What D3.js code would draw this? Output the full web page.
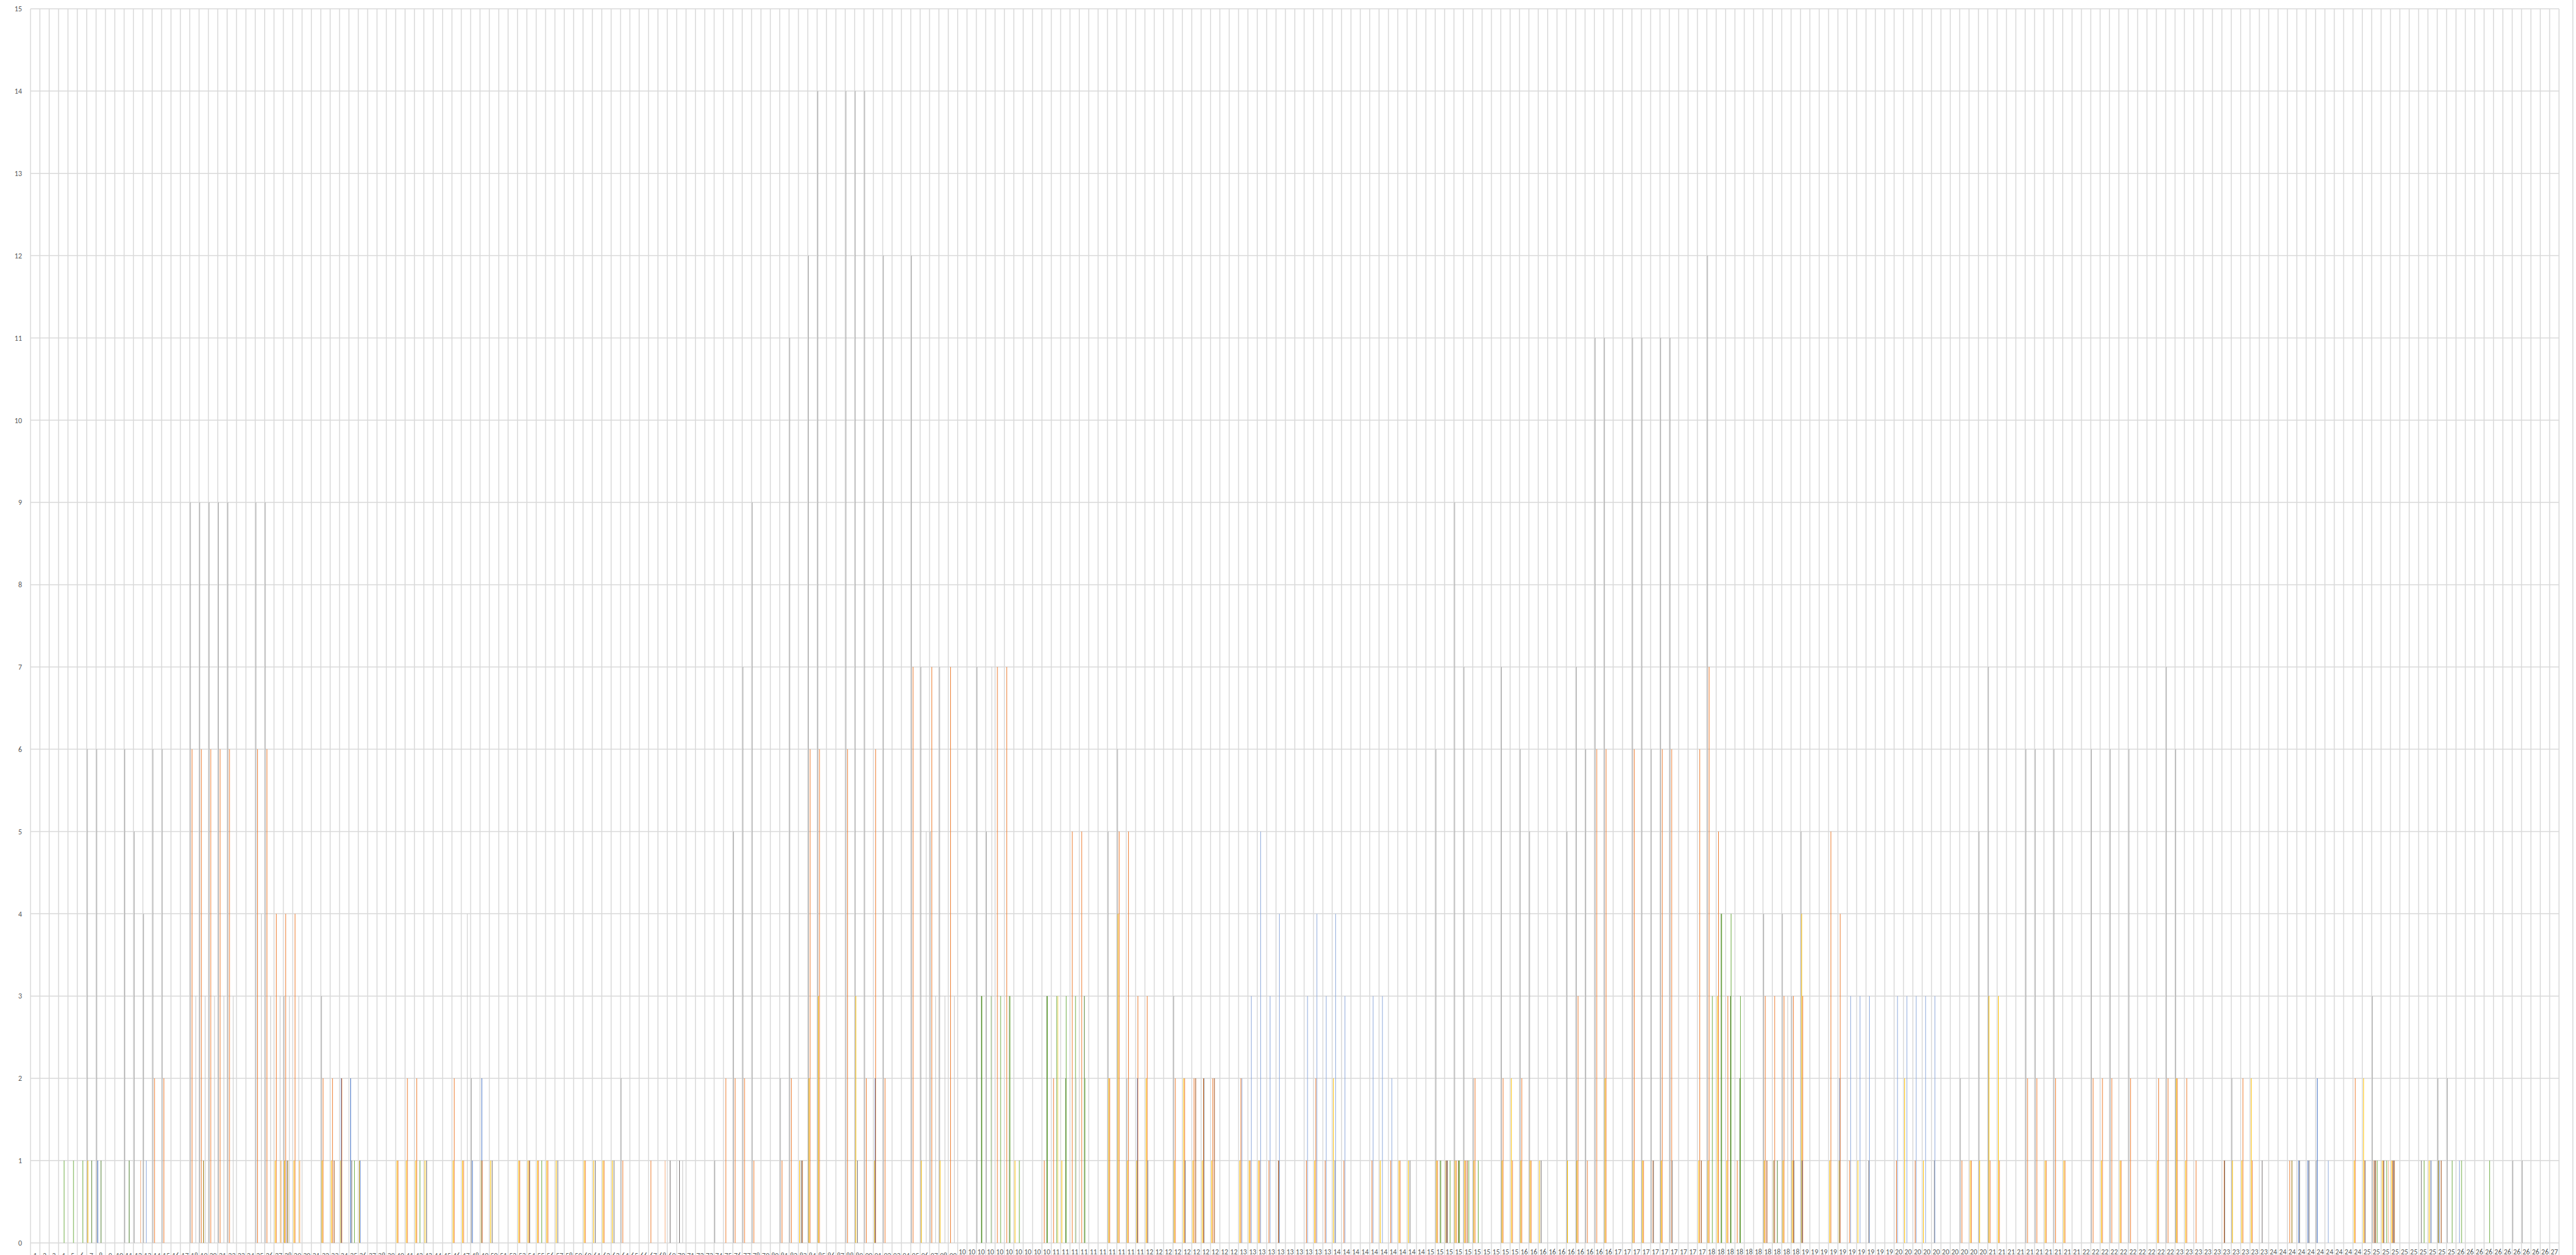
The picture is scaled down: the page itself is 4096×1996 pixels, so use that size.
<!DOCTYPE html>
<html>
<head>
<meta charset="utf-8">
<script src="https://cdn.jsdelivr.net/npm/d3@7"></script>
<style>
  body { margin: 0; background: #fff; }
  svg { display: block; }
</style>
</head>
<body>
<div id="chart"></div>
<script>
// categories 1..270 (one per day), y ticks 0..15
const days = d3.range(1, 271).map(String);
const yTicks = d3.range(0, 16);

// one value per day: 3 lead days, then one group of 7 per week (Mon..Sun), last day alone
const sGray = [0,0,0,
  0,0,0,6,6,0,0, 6,5,4,6,6,0,0, 9,9,9,9,9,0,0, 9,9,0,3,0,0,0, 3,0,0,0,0,0,0,
  0,0,0,0,0,0,0, 0,0,2,0,0,0,0, 0,0,0,0,0,0,0, 0,0,0,0,2,0,0, 0,0,0,0,0,0,0,
  1,0,5,7,9,0,0, 2,11,0,12,14,0,0, 14,14,14,0,12,0,0, 12,7,5,7,0,0,0, 7,5,0,0,0,0,0,
  0,0,0,0,0,0,0, 5,6,2,0,0,0,0, 3,0,0,0,0,0,0, 0,0,0,0,0,0,0, 0,0,0,0,0,0,0,
  0,0,0,0,0,0,0, 6,0,9,7,2,0,0, 7,0,6,5,0,0,0, 5,7,6,11,11,0,0, 11,11,6,11,11,0,0,
  0,12,0,0,0,0,0, 4,0,4,3,5,0,0, 0,0,0,0,0,0,0, 0,0,0,0,0,0,0, 2,0,5,7,0,0,0,
  6,6,0,6,0,0,0, 6,0,6,0,6,0,0, 0,7,6,0,0,0,0, 0,2,0,0,0,0,0, 0,0,0,1,0,0,0,
  0,0,3,0,0,0,0, 0,0,2,2,0,0,0, 0,0,0,1,1,0,0,
  0];
const sYellow = [0,0,0,
  0,0,0,1,0,0,0, 0,0,0,0,0,0,0, 0,0,0,0,0,0,0, 0,0,1,1,1,0,0, 1,1,1,0,1,0,0,
  0,1,1,1,1,0,0, 1,1,0,1,1,0,0, 1,1,1,1,1,0,0, 1,1,1,1,0,0,0, 0,0,0,0,0,0,0,
  0,0,0,0,0,0,0, 0,0,1,2,3,0,0, 0,3,0,1,0,0,0, 0,1,0,1,0,0,0, 0,0,0,0,1,0,0,
  0,0,1,0,0,0,0, 2,4,1,1,2,0,0, 1,2,1,1,1,0,0, 1,1,1,0,0,0,0, 0,1,0,2,0,0,0,
  0,1,0,1,1,0,0, 1,1,1,1,1,0,0, 1,2,1,1,1,0,0, 1,1,0,0,2,0,0, 1,1,0,1,0,0,0,
  1,1,3,1,0,0,0, 1,1,1,1,4,0,0, 1,1,0,1,0,0,0, 0,2,0,1,0,0,0, 0,1,1,3,3,0,0,
  0,0,1,0,1,0,0, 0,1,0,1,0,0,0, 1,0,2,1,0,0,0, 0,1,1,2,0,0,0, 0,0,0,0,0,0,0,
  1,2,0,1,1,0,0, 0,1,1,0,0,0,0, 0,0,0,0,0,0,0,
  0];
const sBlue = [0,0,0,
  0,0,0,0,1,0,0, 0,0,0,0,0,0,0, 0,0,0,0,0,0,0, 0,0,0,0,0,0,0, 0,0,2,2,1,0,0,
  0,0,0,0,0,0,0, 0,0,1,2,0,0,0, 0,0,0,0,0,0,0, 0,0,0,0,0,0,0, 0,0,0,0,0,0,0,
  0,0,0,0,0,0,0, 0,0,0,0,0,0,0, 0,0,0,2,0,0,0, 0,0,0,0,0,0,0, 0,0,0,0,0,0,0,
  0,0,0,0,0,0,0, 0,0,0,2,0,0,0, 0,0,0,0,0,0,0, 0,0,0,0,0,0,0, 0,0,0,0,0,0,0,
  0,0,0,0,0,0,0, 0,1,0,0,0,0,0, 0,0,0,0,0,0,0, 0,0,0,0,0,0,0, 0,0,0,0,0,0,0,
  0,0,0,0,0,0,0, 0,1,0,0,1,0,0, 0,2,0,0,0,0,0, 0,0,0,0,0,0,0, 0,0,0,0,0,0,0,
  0,0,0,0,0,0,0, 0,0,0,0,0,0,0, 0,0,0,0,0,0,0, 0,0,0,0,0,0,0, 0,1,1,2,0,0,0,
  0,0,0,0,0,0,0, 0,0,1,0,0,0,0, 0,0,0,0,0,0,0,
  0];
const sOrange = [0,0,0,
  0,0,0,0,0,0,0, 0,0,0,2,2,0,0, 6,6,6,6,6,0,0, 6,6,4,4,4,0,0, 2,2,2,0,0,0,0,
  0,1,2,2,0,0,0, 2,1,0,1,0,0,0, 1,1,1,1,0,0,0, 1,0,1,0,1,0,0, 1,0,0,0,0,0,0,
  0,2,2,2,1,0,0, 1,2,0,6,6,0,0, 6,0,2,6,2,0,0, 7,0,7,0,7,0,0, 0,0,7,7,0,0,0,
  1,2,0,5,5,0,0, 2,5,5,3,3,0,0, 2,2,2,2,2,0,0, 2,1,1,1,1,0,0, 1,2,1,0,1,0,0,
  1,0,1,1,0,0,0, 1,1,1,1,2,0,0, 2,1,2,1,0,0,0, 0,3,1,6,6,0,0, 6,1,1,6,6,0,0,
  6,7,5,3,1,0,0, 3,3,3,3,3,0,0, 5,4,1,0,0,0,0, 1,0,1,0,0,0,0, 1,1,0,1,1,0,0,
  2,2,1,2,1,0,0, 2,2,2,1,2,0,0, 2,2,2,2,1,0,0, 1,0,2,1,0,0,0, 1,0,0,0,0,0,0,
  2,1,1,1,1,0,0, 0,0,0,0,0,0,0, 0,0,0,0,0,0,0,
  0];
const sDarkGray = [0,0,0,
  0,0,0,0,0,0,0, 0,0,0,0,0,0,0, 0,0,0,0,0,0,0, 0,0,0,0,0,0,0, 0,0,0,1,0,0,0,
  0,0,0,0,1,0,0, 0,0,0,0,1,0,0, 0,1,0,0,1,0,0, 0,1,0,1,0,0,0, 0,0,1,1,0,0,0,
  0,0,0,0,0,0,0, 0,0,1,0,0,0,0, 0,1,0,0,0,0,0, 0,0,0,0,0,0,0, 0,0,0,0,0,0,0,
  0,0,0,0,0,0,0, 0,0,0,0,1,0,0, 0,1,0,2,0,0,0, 0,0,0,0,1,0,0, 0,0,0,1,0,0,0,
  0,0,0,0,1,0,0, 0,1,0,0,0,0,0, 0,0,0,0,1,0,0, 0,0,0,0,0,0,0, 0,0,1,0,1,0,0,
  0,0,0,0,0,0,0, 0,0,0,1,0,0,0, 0,0,0,0,1,0,0, 0,0,0,0,1,0,0, 0,0,0,0,0,0,0,
  0,0,0,0,0,0,0, 0,0,0,0,0,0,0, 0,0,0,0,0,0,0, 1,0,0,0,1,0,0, 0,1,1,0,0,0,0,
  0,1,1,1,1,0,0, 1,1,0,0,0,0,0, 0,0,0,0,0,0,0,
  0];
const sLightBlue = [0,0,0,
  0,0,0,0,0,0,0, 0,0,1,0,0,0,0, 0,0,0,0,0,0,0, 0,0,0,1,0,0,0, 0,0,0,0,0,0,0,
  0,0,0,0,0,0,0, 0,0,0,0,0,0,0, 0,0,0,0,0,0,0, 0,0,0,0,0,0,0, 0,0,0,0,0,0,0,
  0,0,0,0,0,0,0, 0,0,0,0,0,0,0, 0,0,0,0,0,0,0, 0,0,0,0,0,0,0, 0,0,0,0,0,0,0,
  0,0,0,0,0,0,0, 0,0,0,0,0,0,0, 0,0,0,0,0,0,0, 2,3,5,3,4,0,0, 3,4,3,4,3,0,0,
  3,3,2,0,0,0,0, 0,0,0,0,0,0,0, 0,0,0,0,0,0,0, 0,0,0,0,0,0,0, 0,0,0,0,0,0,0,
  0,0,0,0,0,0,0, 0,0,0,0,0,0,0, 0,0,3,3,3,0,0, 3,3,3,3,3,0,0, 0,0,0,0,0,0,0,
  0,0,0,0,0,0,0, 0,0,0,0,0,0,0, 0,0,0,0,0,0,0, 0,0,0,0,0,0,0, 0,0,0,0,1,0,0,
  0,0,0,0,0,0,0, 0,1,0,0,1,0,0, 0,0,0,0,0,0,0,
  0];
const sBrown = [0,0,0,
  0,0,0,0,0,0,0, 0,0,0,0,0,0,0, 0,0,0,0,0,0,0, 0,0,0,0,0,0,0, 0,1,0,0,0,0,0,
  0,0,0,0,0,0,0, 0,0,0,0,0,0,0, 0,0,0,0,0,0,0, 0,0,0,0,0,0,0, 0,0,0,0,0,0,0,
  0,0,0,0,0,0,0, 0,0,1,0,0,0,0, 0,0,0,0,0,0,0, 0,0,0,0,0,0,0, 0,0,0,0,0,0,0,
  0,0,0,0,0,0,0, 0,0,0,0,0,0,0, 0,0,2,0,2,0,0, 0,0,0,0,0,0,0, 0,0,0,0,0,0,0,
  0,0,0,0,0,0,0, 0,0,0,1,0,0,0, 0,0,0,0,0,0,0, 0,0,0,0,0,0,0, 0,0,0,0,0,0,0,
  1,0,0,0,0,0,0, 1,0,0,0,0,0,0, 0,0,0,0,0,0,0, 0,0,0,0,0,0,0, 0,0,0,0,0,0,0,
  0,0,0,0,0,0,0, 0,0,0,0,0,0,0, 0,0,0,0,0,0,0, 0,0,0,0,0,0,0, 0,0,0,0,0,0,0,
  0,0,1,0,1,0,0, 0,0,1,0,0,0,0, 0,0,0,0,0,0,0,
  0];
const sDarkYellow = [0,0,0,
  0,0,0,0,0,0,0, 0,0,0,0,0,0,0, 0,1,0,0,0,0,0, 0,0,0,1,0,0,0, 0,0,0,0,0,0,0,
  0,0,0,0,0,0,0, 0,0,0,0,0,0,0, 0,0,0,0,0,0,0, 0,0,0,0,0,0,0, 0,0,0,0,0,0,0,
  0,0,0,0,0,0,0, 0,0,0,0,0,0,0, 0,0,0,0,0,0,0, 0,0,0,0,0,0,0, 0,0,0,0,0,0,0,
  0,0,0,0,0,0,0, 0,0,0,0,0,0,0, 0,0,0,0,0,0,0, 0,0,0,0,0,0,0, 0,0,0,0,0,0,0,
  0,0,0,0,0,0,0, 0,0,1,0,0,0,0, 0,0,0,0,0,0,0, 0,0,0,0,0,0,0, 0,0,0,0,0,0,0,
  0,0,0,0,0,0,0, 0,0,0,0,0,0,0, 0,0,0,0,0,0,0, 0,0,0,0,0,0,0, 0,0,0,0,0,0,0,
  0,0,0,0,0,0,0, 0,0,0,0,0,0,0, 0,0,0,0,0,0,0, 0,0,0,0,0,0,0, 1,0,0,0,0,0,0,
  0,0,0,0,0,0,0, 0,0,0,0,0,0,0, 0,0,0,0,0,0,0,
  0];
const sDarkGreen = [0,0,0,
  0,0,0,1,1,0,0, 1,0,0,0,0,0,0, 0,0,0,0,0,0,0, 0,0,0,0,0,0,0, 0,0,0,0,0,0,0,
  0,0,0,0,0,0,0, 0,0,0,0,0,0,0, 0,0,0,0,0,0,0, 0,0,0,0,0,0,0, 0,0,0,0,0,0,0,
  0,0,0,0,0,0,0, 0,0,0,0,0,0,0, 0,0,0,0,0,0,0, 0,0,0,0,0,0,0, 3,0,0,3,0,0,0,
  3,0,2,0,3,0,0, 0,0,0,0,0,0,0, 0,0,0,0,0,0,0, 0,0,0,0,0,0,0, 0,0,0,0,0,0,0,
  0,0,0,0,0,0,0, 1,0,1,0,0,0,0, 0,0,0,0,0,0,0, 0,0,0,0,0,0,0, 0,0,0,0,0,0,0,
  0,0,4,3,2,0,0, 0,1,0,0,0,0,0, 0,0,0,0,0,0,0, 0,0,0,0,0,0,0, 0,0,0,0,0,0,0,
  0,0,0,0,0,0,0, 0,0,0,0,0,0,0, 0,0,0,0,0,0,0, 0,0,0,0,0,0,0, 0,0,0,0,0,0,0,
  0,0,0,0,0,0,0, 0,0,0,0,0,0,0, 0,0,0,0,0,0,0,
  0];
const sGreen = [0,0,0,
  1,1,1,0,0,0,0, 0,0,0,0,0,0,0, 0,0,0,0,0,0,0, 0,0,0,0,0,0,0, 0,0,0,1,0,0,0,
  0,0,0,1,0,0,0, 0,0,0,0,0,0,0, 0,0,1,0,0,0,0, 0,0,0,0,0,0,0, 0,0,0,0,0,0,0,
  0,0,0,0,0,0,0, 0,0,0,0,0,0,0, 0,0,0,0,0,0,0, 0,0,0,0,0,0,0, 3,3,3,3,1,0,0,
  3,3,3,3,2,0,0, 0,0,0,0,0,0,0, 0,0,0,0,0,0,0, 0,0,0,0,0,0,0, 0,0,0,0,0,0,0,
  0,0,0,0,0,0,0, 1,1,1,1,1,0,0, 0,0,0,0,0,0,0, 0,0,0,0,0,0,0, 0,0,0,0,0,0,0,
  0,3,4,4,3,0,0, 0,0,0,0,0,0,0, 0,0,0,0,0,0,0, 0,0,0,0,0,0,0, 0,0,0,0,0,0,0,
  0,0,0,0,0,0,0, 0,0,0,0,0,0,0, 0,0,0,0,0,0,0, 0,0,0,0,0,0,0, 0,0,0,0,0,0,0,
  0,0,1,1,0,0,0, 1,0,0,1,1,0,0, 1,0,0,0,0,0,0,
  0];
const sLightGray = [0,0,0,
  0,0,0,0,0,0,0, 0,0,0,0,0,0,0, 3,3,3,3,3,0,0, 4,3,3,3,3,0,0, 0,0,0,0,0,0,0,
  0,0,0,0,0,0,0, 0,4,0,0,0,0,0, 0,0,0,0,0,0,0, 0,0,0,0,0,0,0, 0,0,0,1,0,0,0,
  0,0,0,0,0,0,0, 0,0,0,0,0,0,0, 0,0,0,0,0,0,0, 0,5,3,3,3,0,0, 0,7,0,0,0,0,0,
  0,0,0,2,0,0,0, 0,0,0,0,0,0,0, 0,0,0,0,0,0,0, 0,0,0,0,0,0,0, 0,0,0,0,0,0,0,
  0,0,0,0,0,0,0, 0,0,0,0,0,0,0, 0,0,0,0,0,0,0, 0,0,0,0,0,0,0, 0,0,0,0,0,0,0,
  0,0,0,0,0,0,0, 0,0,3,0,0,0,0, 0,0,0,0,0,0,0, 0,0,0,0,0,0,0, 0,0,0,0,0,0,0,
  0,0,0,0,0,0,0, 0,0,0,0,0,0,0, 0,0,0,0,0,0,0, 0,0,0,0,0,0,0, 0,0,0,0,0,0,0,
  0,0,0,0,0,0,0, 0,0,0,0,0,0,0, 0,0,0,0,0,0,0,
  0];
const sLightYellow = [0,0,0,
  0,0,0,0,0,0,0, 0,0,0,0,0,0,0, 0,0,0,0,0,0,0, 0,0,1,0,1,0,0, 0,0,0,0,0,0,0,
  0,0,0,0,0,0,0, 0,0,0,0,0,0,0, 0,0,0,0,0,0,0, 0,0,0,0,0,0,0, 0,0,0,0,0,0,0,
  0,0,0,0,0,0,0, 0,0,0,0,0,0,0, 0,0,0,0,0,0,0, 0,0,0,0,0,0,0, 0,0,0,0,0,0,0,
  0,3,0,0,0,0,0, 0,0,0,0,0,0,0, 0,0,0,0,0,0,0, 0,0,0,0,0,0,0, 0,0,0,0,0,0,0,
  0,0,0,0,0,0,0, 0,0,0,0,0,0,0, 0,0,0,0,0,0,0, 0,0,0,0,0,0,0, 0,0,0,0,0,0,0,
  0,0,0,0,0,0,0, 0,0,0,0,0,0,0, 0,0,0,0,0,0,0, 0,0,0,0,0,0,0, 0,0,0,0,0,0,0,
  0,0,0,0,0,0,0, 0,0,0,0,0,0,0, 0,0,0,0,0,0,0, 0,0,0,0,0,0,0, 0,0,0,0,0,0,0,
  0,0,0,0,0,0,0, 0,0,0,0,0,0,0, 0,0,0,0,0,0,0,
  0];
const sLightOrange = [0,0,0,
  0,0,0,0,0,0,0, 0,1,0,0,0,0,0, 0,0,0,0,0,0,0, 0,0,1,0,1,0,0, 0,0,0,0,0,0,0,
  0,0,0,0,0,0,0, 0,0,0,0,0,0,0, 0,0,0,0,0,0,0, 0,0,0,0,0,0,0, 0,1,0,0,0,0,0,
  0,0,0,0,0,0,0, 0,0,0,0,0,0,0, 0,0,0,0,0,0,0, 0,0,0,0,0,0,0, 0,0,0,0,0,0,0,
  0,0,0,0,0,0,0, 0,0,0,0,0,0,0, 0,0,0,0,0,0,0, 0,0,0,0,0,0,0, 0,0,0,0,0,0,0,
  0,0,0,0,0,0,0, 0,0,0,0,0,0,0, 0,0,0,0,0,0,0, 0,0,0,0,0,0,0, 0,0,0,0,0,0,0,
  0,0,0,0,0,0,0, 0,0,0,0,0,0,0, 0,0,0,0,0,0,0, 0,0,0,0,0,0,0, 0,0,0,0,0,0,0,
  0,0,0,0,0,0,0, 0,0,0,0,0,0,0, 0,0,0,0,0,0,0, 0,0,0,0,0,0,0, 0,0,0,0,0,0,0,
  0,0,0,1,0,0,0, 0,0,0,0,0,0,0, 0,0,0,0,0,0,0,
  0];

const seriesNames  = ["gray", "yellow", "blue", "orange", "darkGray", "lightBlue", "brown",
                      "darkYellow", "darkGreen", "green", "lightGray", "lightYellow", "lightOrange"];
const seriesColors = ["#A5A5A5", "#FFC000", "#4472C4", "#ED7D31", "#767171", "#8FAADC", "#9E480E",
                      "#997300", "#548235", "#70AD47", "#C9C9C9", "#FFD966", "#F4B183"];
const seriesValues = [sGray, sYellow, sBlue, sOrange, sDarkGray, sLightBlue, sBrown,
                      sDarkYellow, sDarkGreen, sGreen, sLightGray, sLightYellow, sLightOrange];
const nSlots = 16;

const W = 4096, H = 1996;
const margin = {top: 14, right: 27, bottom: 19.3, left: 48.5};

const svg = d3.select("#chart").append("svg")
    .attr("width", W).attr("height", H);

const x = d3.scaleBand().domain(days).range([margin.left, W - margin.right]).padding(0);
const y = d3.scaleLinear().domain([0, 15]).range([H - margin.bottom, margin.top]);
// slot of each series inside a day's cluster (series order, first = gray at the left edge)
const xs = d3.scaleBand().domain(d3.range(nSlots))
    .range([0.04 * x.bandwidth(), 0.96 * x.bandwidth()]);

const grid = "#D9D9D9";

// horizontal gridlines
svg.append("g").selectAll("line").data(yTicks).enter().append("line")
    .attr("x1", margin.left).attr("x2", W - margin.right)
    .attr("y1", d => y(d)).attr("y2", d => y(d))
    .attr("stroke", grid).attr("stroke-width", 1.5);

// vertical gridlines at each day edge, running down into the label area
const edges = days.map(d => x(d)).concat([x(days[days.length - 1]) + x.bandwidth()]);
svg.append("g").selectAll("line").data(edges).enter().append("line")
    .attr("x1", d => d).attr("x2", d => d)
    .attr("y1", y(15)).attr("y2", H)
    .attr("stroke", grid).attr("stroke-width", 1.5);

// chart border on the right
svg.append("line").attr("x1", 4091).attr("x2", 4091).attr("y1", 0).attr("y2", H)
    .attr("stroke", grid).attr("stroke-width", 1.5);

// bars
const bars = [];
seriesValues.forEach((vals, si) => {
  vals.forEach((v, di) => {
    if (v > 0) bars.push({day: days[di], value: v, si: si});
  });
});

const bw = Math.max(1, xs.bandwidth());
svg.append("g").selectAll("rect").data(bars).enter().append("rect")
    .attr("x", d => x(d.day) + xs(d.si))
    .attr("y", d => y(d.value))
    .attr("width", bw)
    .attr("height", d => y(0) - y(d.value))
    .attr("fill", d => seriesColors[d.si]);

// y axis labels
const yAxis = svg.append("g")
    .attr("transform", `translate(${margin.left},0)`)
    .call(d3.axisLeft(y).tickValues(yTicks).tickSize(0).tickPadding(13.5));
yAxis.select(".domain").remove();
yAxis.selectAll("text")
    .attr("fill", "#595959")
    .style("font-family", "Carlito, 'Liberation Sans', Arial, sans-serif")
    .style("font-size", "11.8px");

// x labels: three-digit days wrap onto a second line
const xl = svg.append("g")
    .style("font-family", "Carlito, 'Liberation Sans', Arial, sans-serif")
    .style("font-size", "11.5px")
    .attr("fill", "#595959")
    .attr("text-anchor", "middle");
xl.selectAll("text").data(days).enter().append("text")
    .attr("x", d => x(d) + x.bandwidth() / 2)
    .attr("y", d => d.length > 2 ? 1995 : 2001)
    .each(function(d) {
      const t = d3.select(this);
      if (d.length > 2) {
        t.append("tspan").text(d.slice(0, 2));
        t.append("tspan").attr("x", x(d) + x.bandwidth() / 2).attr("dy", "1.2em").text(d.slice(2));
      } else {
        t.text(d);
      }
    });
</script>
</body>
</html>
